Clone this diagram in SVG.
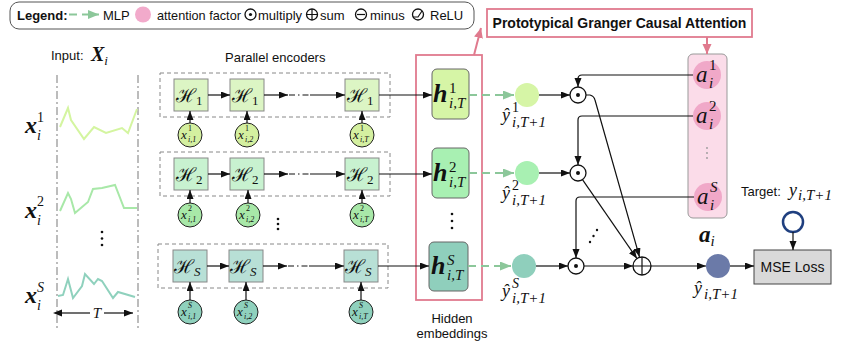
<svg xmlns="http://www.w3.org/2000/svg" width="860" height="350" viewBox="0 0 860 350">
<defs>
<marker id="ab" markerUnits="userSpaceOnUse" markerWidth="10" markerHeight="8" refX="9" refY="3.5" orient="auto"><path d="M0,0 L9,3.5 L0,7 z" fill="#111"/></marker>
<marker id="abs" markerUnits="userSpaceOnUse" markerWidth="10" markerHeight="8" refX="0" refY="3.5" orient="auto-start-reverse"><path d="M0,0 L9,3.5 L0,7 z" fill="#111"/></marker>
<marker id="ag" markerUnits="userSpaceOnUse" markerWidth="12" markerHeight="10" refX="11" refY="4.5" orient="auto"><path d="M0,0 L11,4.5 L0,9 z" fill="#8cc79a"/></marker>
<marker id="ap" markerUnits="userSpaceOnUse" markerWidth="12" markerHeight="10" refX="10" refY="4.5" orient="auto"><path d="M0,0 L10,4.5 L0,9 z" fill="#e07a8e"/></marker>
</defs>
<style>
.sans{font-family:"Liberation Sans",Arial,sans-serif;fill:#111}
.m{font-family:"Liberation Serif","DejaVu Serif",serif;font-style:italic;fill:#111}
.u{font-family:"Liberation Serif","DejaVu Serif",serif;font-style:normal;fill:#111}
.mb{font-family:"Liberation Serif","DejaVu Serif",serif;font-style:italic;font-weight:bold;fill:#111}
.cal{font-family:"DejaVu Serif","Noto Sans",serif;fill:#111}
.ln{stroke:#111;stroke-width:1.2;fill:none}
.dd{stroke:#111;stroke-width:1.2;stroke-dasharray:6,3,1.5,3;fill:none}
.gd{stroke:#8cc79a;stroke-width:2;stroke-dasharray:8,5;fill:none}
.pk{stroke:#e07a8e;stroke-width:2;fill:none}
.enc{fill:none;stroke:#888;stroke-dasharray:4,3;stroke-width:1}
.hb{stroke:#888;stroke-width:1}
.op{fill:#fff;stroke:#111;stroke-width:1.3}
.vd{stroke:#999;stroke-width:1.3;stroke-dasharray:8,3,2,3}
.dot{fill:#111}
</style>

<g id="legend">
<rect x="10" y="2" width="464" height="27" rx="9" fill="#fff" stroke="#555" stroke-width="1"/>
<text x="17" y="19.5" class="sans" font-size="13" font-weight="bold">Legend:</text>
<line x1="69" y1="14.5" x2="99" y2="14.5" class="gd" marker-end="url(#ag)"/>
<text x="103" y="19.5" class="sans" font-size="13">MLP</text>
<circle cx="143" cy="14.5" r="8" fill="#f2aacb"/>
<text x="157" y="19.5" class="sans" font-size="12.7">attention factor</text>
<circle cx="250.5" cy="14.5" r="5.5" class="op"/><circle cx="250.5" cy="14.5" r="1.6" class="dot"/>
<text x="258" y="19.5" class="sans" font-size="13">multiply</text>
<circle cx="312" cy="14.5" r="5.5" class="op"/><path d="M306.5,14.5 H317.5 M312,9 V20" class="ln"/>
<text x="320" y="19.5" class="sans" font-size="13">sum</text>
<circle cx="361" cy="14.5" r="5.5" class="op"/><path d="M357,14.5 H365" class="ln"/>
<text x="370" y="19.5" class="sans" font-size="13">minus</text>
<circle cx="418" cy="14.5" r="5.5" class="op"/><path d="M413,17 L418,17 L422,11" class="ln"/>
<text x="430" y="19.5" class="sans" font-size="13">ReLU</text>
</g>

<g id="pgca">
<rect x="487" y="9" width="265" height="28" fill="#fff" stroke="#e07a8e" stroke-width="1.8"/>
<text x="619.5" y="28" class="sans" font-size="14" font-weight="bold" text-anchor="middle">Prototypical Granger Causal Attention</text>
</g>

<g id="input">
<text x="51" y="60" class="sans" font-size="13">Input:</text>
<text x="91" y="61" class="mb" font-size="20">X<tspan font-size="13" font-weight="normal" dy="4">i</tspan></text>
<line x1="57" y1="75" x2="57" y2="328" class="vd"/>
<line x1="138" y1="75" x2="138" y2="328" class="vd"/>
<polyline points="60,127 68,108 71,120 84,139 94,127 106,133 122,128 128,133 137,109" fill="none" stroke="#d4f5a0" stroke-width="2"/>
<polyline points="60,211 68,193 71,199 75,213 88,202 93,189 102,188 115,185 124,208 137,208" fill="none" stroke="#a8e8a8" stroke-width="2"/>
<polyline points="58,296 63,295 68,279 73,298 82,286 85,274 94,284 98,279 102,281 113,298 118,292 135,297" fill="none" stroke="#8fd1bd" stroke-width="2"/>
<text x="25" y="133" class="mb" font-size="24">x</text><text x="37" y="122" class="u" font-size="14">1</text><text x="37" y="140" class="m" font-size="14">i</text>
<text x="25" y="218" class="mb" font-size="24">x</text><text x="37" y="206" class="u" font-size="14">2</text><text x="37" y="225" class="m" font-size="14">i</text>
<text x="25" y="303" class="mb" font-size="24">x</text><text x="37" y="292" class="m" font-size="14">S</text><text x="37" y="310" class="m" font-size="14">i</text>
<circle cx="102" cy="232" r="1.3" class="dot"/><circle cx="102" cy="238.5" r="1.3" class="dot"/><circle cx="102" cy="245" r="1.3" class="dot"/>
<line x1="62" y1="313" x2="90" y2="313" class="ln" marker-start="url(#abs)"/>
<line x1="104" y1="313" x2="133" y2="313" class="ln" marker-end="url(#ab)"/>
<text x="97" y="318" class="m" font-size="15" text-anchor="middle">T</text>
</g>

<g id="encoders">
<text x="225" y="62" class="sans" font-size="13">Parallel encoders</text>
<rect x="160" y="73" width="230" height="44" class="enc"/>
<rect x="160" y="152" width="230" height="44" class="enc"/>
<rect x="158" y="244" width="230" height="44" class="enc"/>
</g>

<g id="enc1">
<rect x="174" y="79" width="34" height="32" fill="#dcf5c4" class="hb"/>
<rect x="230" y="79" width="34" height="32" fill="#dcf5c4" class="hb"/>
<rect x="345" y="79" width="34" height="32" fill="#dcf5c4" class="hb"/>
<text x="176" y="102" class="cal" font-size="19">ℋ<tspan font-size="13" font-family="Liberation Serif" dy="3">1</tspan></text>
<text x="232" y="102" class="cal" font-size="19">ℋ<tspan font-size="13" font-family="Liberation Serif" dy="3">1</tspan></text>
<text x="347" y="102" class="cal" font-size="19">ℋ<tspan font-size="13" font-family="Liberation Serif" dy="3">1</tspan></text>
</g>
<g id="enc2">
<rect x="174" y="158" width="34" height="32" fill="#c8f2d0" class="hb"/>
<rect x="230" y="158" width="34" height="32" fill="#c8f2d0" class="hb"/>
<rect x="345" y="158" width="34" height="32" fill="#c8f2d0" class="hb"/>
<text x="176" y="181" class="cal" font-size="19">ℋ<tspan font-size="13" font-family="Liberation Serif" dy="3">2</tspan></text>
<text x="232" y="181" class="cal" font-size="19">ℋ<tspan font-size="13" font-family="Liberation Serif" dy="3">2</tspan></text>
<text x="347" y="181" class="cal" font-size="19">ℋ<tspan font-size="13" font-family="Liberation Serif" dy="3">2</tspan></text>
</g>
<g id="encS">
<rect x="173" y="250" width="34" height="32" fill="#b8e0d6" class="hb"/>
<rect x="229" y="250" width="34" height="32" fill="#b8e0d6" class="hb"/>
<rect x="344" y="250" width="34" height="32" fill="#b8e0d6" class="hb"/>
<text x="174" y="273" class="cal" font-size="19">ℋ<tspan font-size="13" font-family="Liberation Serif" font-style="italic" dy="3">S</tspan></text>
<text x="230" y="273" class="cal" font-size="19">ℋ<tspan font-size="13" font-family="Liberation Serif" font-style="italic" dy="3">S</tspan></text>
<text x="345" y="273" class="cal" font-size="19">ℋ<tspan font-size="13" font-family="Liberation Serif" font-style="italic" dy="3">S</tspan></text>
</g>

<g id="inputs1">
<circle cx="190" cy="135" r="12" fill="#d4f0a0" stroke="#222"/>
<circle cx="247" cy="135" r="12" fill="#d4f0a0" stroke="#222"/>
<circle cx="362" cy="135" r="12" fill="#d4f0a0" stroke="#222"/>
<text x="181" y="139" class="m" font-size="13">x</text><text x="188" y="131" class="u" font-size="8">1</text><text x="188" y="142" class="m" font-size="8">i,1</text>
<text x="238" y="139" class="m" font-size="13">x</text><text x="245" y="131" class="u" font-size="8">1</text><text x="245" y="142" class="m" font-size="8">i,2</text>
<text x="353" y="139" class="m" font-size="13">x</text><text x="360" y="131" class="u" font-size="8">1</text><text x="360" y="142" class="m" font-size="8">i,T</text>
</g>
<g id="inputs2">
<circle cx="190" cy="215" r="12" fill="#a8e8a8" stroke="#222"/>
<circle cx="248" cy="215" r="12" fill="#a8e8a8" stroke="#222"/>
<circle cx="362" cy="215" r="12" fill="#a8e8a8" stroke="#222"/>
<text x="181" y="219" class="m" font-size="13">x</text><text x="188" y="211" class="u" font-size="8">2</text><text x="188" y="222" class="m" font-size="8">i,1</text>
<text x="239" y="219" class="m" font-size="13">x</text><text x="246" y="211" class="u" font-size="8">2</text><text x="246" y="222" class="m" font-size="8">i,2</text>
<text x="353" y="219" class="m" font-size="13">x</text><text x="360" y="211" class="u" font-size="8">2</text><text x="360" y="222" class="m" font-size="8">i,T</text>
<circle cx="278" cy="219" r="1.3" class="dot"/><circle cx="278" cy="224" r="1.3" class="dot"/><circle cx="278" cy="229" r="1.3" class="dot"/>
</g>
<g id="inputsS">
<circle cx="190" cy="312" r="12" fill="#8fd1bd" stroke="#222"/>
<circle cx="246" cy="312" r="12" fill="#8fd1bd" stroke="#222"/>
<circle cx="361" cy="312" r="12" fill="#8fd1bd" stroke="#222"/>
<text x="181" y="316" class="m" font-size="13">x</text><text x="188" y="308" class="m" font-size="8">S</text><text x="188" y="319" class="m" font-size="8">i,1</text>
<text x="237" y="316" class="m" font-size="13">x</text><text x="244" y="308" class="m" font-size="8">S</text><text x="244" y="319" class="m" font-size="8">i,2</text>
<text x="352" y="316" class="m" font-size="13">x</text><text x="359" y="308" class="m" font-size="8">S</text><text x="359" y="319" class="m" font-size="8">i,T</text>
</g>

<g id="hidden">
<rect x="416" y="55" width="66" height="245" fill="none" stroke="#e07a8e" stroke-width="1.8"/>
<text x="452" y="323" class="sans" font-size="13" text-anchor="middle">Hidden</text>
<text x="452" y="338" class="sans" font-size="13" text-anchor="middle">embeddings</text>
</g>
<g id="h1">
<rect x="432" y="69" width="37" height="50" rx="5" fill="#d6f5a6" stroke="#666"/>
<text x="433" y="102" class="mb" font-size="26">h</text><text x="449" y="93" class="u" font-size="15">1</text><text x="449" y="108" class="m" font-size="15">i,T</text>
</g>
<g id="h2">
<rect x="432" y="148" width="37" height="50" rx="5" fill="#a8f0b2" stroke="#666"/>
<text x="433" y="181" class="mb" font-size="26">h</text><text x="449" y="172" class="u" font-size="15">2</text><text x="449" y="187" class="m" font-size="15">i,T</text>
</g>
<g id="hS">
<rect x="429" y="242" width="39" height="49" rx="5" fill="#8fcfbc" stroke="#666"/>
<text x="431" y="274" class="mb" font-size="26">h</text><text x="447" y="265" class="m" font-size="15">S</text><text x="447" y="280" class="m" font-size="15">i,T</text>
</g>
<g id="hdots"><circle cx="452" cy="214" r="1.3" class="dot"/><circle cx="452" cy="221" r="1.3" class="dot"/><circle cx="452" cy="228" r="1.3" class="dot"/></g>

<g id="yhat1">
<circle cx="527" cy="95" r="12" fill="#d6f5a6"/>
<text x="502" y="121" class="m" font-size="18">ŷ</text><text x="512" y="112" class="u" font-size="14">1</text><text x="512" y="127" class="m" font-size="15">i,T+1</text>
</g>
<g id="yhat2">
<circle cx="527" cy="173" r="12" fill="#a8f0b2"/>
<text x="502" y="199" class="m" font-size="18">ŷ</text><text x="512" y="190" class="u" font-size="14">2</text><text x="512" y="205" class="m" font-size="15">i,T+1</text>
</g>
<g id="yhatS">
<circle cx="524" cy="266" r="12" fill="#8fcfbc"/>
<text x="502" y="297" class="m" font-size="18">ŷ</text><text x="512" y="288" class="m" font-size="14">S</text><text x="512" y="303" class="m" font-size="15">i,T+1</text>
</g>

<g id="mul1"><circle cx="578" cy="95" r="8" class="op"/><circle cx="578" cy="95" r="2" class="dot"/></g>
<g id="mul2"><circle cx="578" cy="173" r="8" class="op"/><circle cx="578" cy="173" r="2" class="dot"/></g>
<g id="mulS"><circle cx="576" cy="266" r="8" class="op"/><circle cx="576" cy="266" r="2" class="dot"/></g>
<g id="sum"><circle cx="642" cy="266" r="9" class="op"/><path d="M633,266 H651 M642,257 V275" class="ln"/></g>
<g id="mdots"><circle cx="590" cy="242" r="1.2" class="dot"/><circle cx="593.5" cy="236" r="1.2" class="dot"/><circle cx="597" cy="230" r="1.2" class="dot"/></g>

<g id="attn">
<rect x="688" y="54" width="39" height="164" rx="5" fill="#fbdce9" stroke="#999"/>
<circle cx="707" cy="75" r="14" fill="#f0a8c8"/>
<circle cx="707" cy="116" r="14" fill="#f0a8c8"/>
<circle cx="708" cy="197" r="14" fill="#f0a8c8"/>
<text x="696" y="82" class="m" font-size="23">a</text><text x="709" y="70" class="u" font-size="15">1</text><text x="709" y="88" class="m" font-size="15">i</text>
<text x="696" y="123" class="m" font-size="23">a</text><text x="709" y="111" class="u" font-size="15">2</text><text x="709" y="129" class="m" font-size="15">i</text>
<text x="697" y="204" class="m" font-size="23">a</text><text x="710" y="192" class="m" font-size="15">S</text><text x="710" y="210" class="m" font-size="15">i</text>
<circle cx="707" cy="148" r="0.9" fill="#999"/><circle cx="707" cy="153" r="0.9" fill="#999"/><circle cx="707" cy="158" r="0.9" fill="#999"/>
<text x="699" y="242" class="mb" font-size="23">a<tspan font-size="15" font-weight="normal" dy="4">i</tspan></text>
</g>

<g id="output">
<circle cx="718" cy="266" r="12" fill="#6b7aa8"/>
<text x="694" y="294" class="m" font-size="18">ŷ</text><text x="704" y="299" class="m" font-size="15">i,T+1</text>
</g>
<g id="target">
<circle cx="793" cy="222" r="10" fill="#fff" stroke="#1f3f7f" stroke-width="2.5"/>
<text x="741" y="196" class="sans" font-size="13">Target:</text>
<text x="789" y="196" class="m" font-size="18">y</text><text x="798" y="200" class="m" font-size="15">i,T+1</text>
</g>
<g id="mse">
<rect x="754" y="250" width="77" height="34" fill="#d9d9d9" stroke="#444"/>
<text x="792.5" y="272" class="sans" font-size="14" text-anchor="middle">MSE Loss</text>
</g>

<g id="connectors">
<line x1="208" y1="95" x2="230" y2="95" class="ln" marker-end="url(#ab)"/>
<line x1="264" y1="95" x2="288" y2="95" class="ln" marker-end="url(#ab)"/>
<line x1="289" y1="95" x2="310" y2="95" class="dd"/>
<line x1="310" y1="95" x2="345" y2="95" class="ln" marker-end="url(#ab)"/>
<line x1="379" y1="95" x2="432" y2="95" class="ln" marker-end="url(#ab)"/>
<line x1="208" y1="174" x2="230" y2="174" class="ln" marker-end="url(#ab)"/>
<line x1="264" y1="174" x2="288" y2="174" class="ln" marker-end="url(#ab)"/>
<line x1="289" y1="174" x2="310" y2="174" class="dd"/>
<line x1="310" y1="174" x2="345" y2="174" class="ln" marker-end="url(#ab)"/>
<line x1="379" y1="174" x2="432" y2="174" class="ln" marker-end="url(#ab)"/>
<line x1="207" y1="266" x2="229" y2="266" class="ln" marker-end="url(#ab)"/>
<line x1="263" y1="266" x2="287" y2="266" class="ln" marker-end="url(#ab)"/>
<line x1="288" y1="266" x2="309" y2="266" class="dd"/>
<line x1="309" y1="266" x2="344" y2="266" class="ln" marker-end="url(#ab)"/>
<line x1="378" y1="266" x2="429" y2="266" class="ln" marker-end="url(#ab)"/>
<line x1="190" y1="123" x2="190" y2="111" class="ln" marker-end="url(#ab)"/>
<line x1="247" y1="123" x2="247" y2="111" class="ln" marker-end="url(#ab)"/>
<line x1="362" y1="123" x2="362" y2="111" class="ln" marker-end="url(#ab)"/>
<line x1="190" y1="203" x2="190" y2="190" class="ln" marker-end="url(#ab)"/>
<line x1="248" y1="203" x2="248" y2="190" class="ln" marker-end="url(#ab)"/>
<line x1="362" y1="203" x2="362" y2="190" class="ln" marker-end="url(#ab)"/>
<line x1="190" y1="300" x2="190" y2="282" class="ln" marker-end="url(#ab)"/>
<line x1="246" y1="300" x2="246" y2="282" class="ln" marker-end="url(#ab)"/>
<line x1="361" y1="300" x2="361" y2="282" class="ln" marker-end="url(#ab)"/>
<line x1="469" y1="95" x2="514" y2="95" class="gd" marker-end="url(#ag)"/>
<line x1="469" y1="173" x2="514" y2="173" class="gd" marker-end="url(#ag)"/>
<line x1="468" y1="266" x2="511" y2="266" class="gd" marker-end="url(#ag)"/>
<line x1="539" y1="95" x2="570" y2="95" class="ln" marker-end="url(#ab)"/>
<line x1="539" y1="173" x2="570" y2="173" class="ln" marker-end="url(#ab)"/>
<line x1="536" y1="266" x2="568" y2="266" class="ln" marker-end="url(#ab)"/>
<path d="M693,75 H582 Q578,75 578,79 V87" class="ln" marker-end="url(#ab)"/>
<path d="M693,116 H582 Q578,116 578,120 V165" class="ln" marker-end="url(#ab)"/>
<path d="M694,197 H580 Q576,197 576,201 V258" class="ln" marker-end="url(#ab)"/>
<path d="M586,95 H590 Q594,96 595,100 L639.5,257" class="ln" marker-end="url(#ab)"/>
<line x1="582.5" y1="179.6" x2="637" y2="258.6" class="ln" marker-end="url(#ab)"/>
<line x1="584" y1="266" x2="633" y2="266" class="ln" marker-end="url(#ab)"/>
<line x1="651" y1="266" x2="706" y2="266" class="ln" marker-end="url(#ab)"/>
<line x1="730" y1="266" x2="754" y2="266" class="ln" marker-end="url(#ab)"/>
<line x1="793" y1="232" x2="793" y2="250" class="ln" marker-end="url(#ab)"/>
<line x1="474" y1="55" x2="481" y2="28" class="pk" marker-end="url(#ap)"/>
<line x1="707" y1="37" x2="707" y2="54" class="pk" marker-end="url(#ap)"/>
</g>
</svg>
